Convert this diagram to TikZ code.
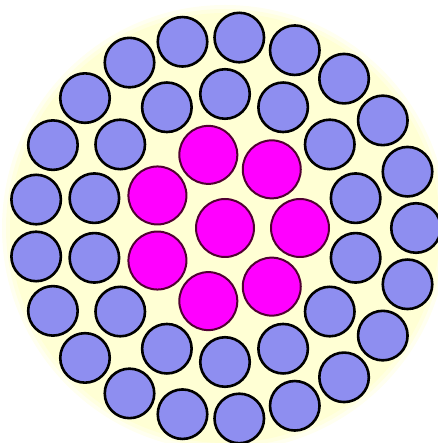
\documentclass[tikz,border=0pt]{standalone}
\usetikzlibrary{calc}
\definecolor{bluefill}{RGB}{142,142,240}
\definecolor{magfill}{RGB}{255,0,255}
\definecolor{magline}{RGB}{80,0,50}
\definecolor{bgyellow}{RGB}{255,255,212}
\tikzset{
  bluedisk/.style={circle,draw=black,line width=2.6pt,fill=bluefill,minimum size=49.5pt,inner sep=0pt},
  magdisk/.style={circle,draw=magline,line width=2pt,fill=magfill,minimum size=58pt,inner sep=0pt}
}
\begin{document}
\begin{tikzpicture}[x=1pt,y=1pt]
\useasboundingbox (0,0) rectangle (437,443);
\coordinate (c) at (225,215);
% pale background disc with soft edge
\fill[bgyellow!35] (c) circle (223);
\fill[bgyellow!70] (c) circle (219);
\fill[bgyellow] (c) circle (215);
% outer blue ring
\foreach \k in {0,...,20}
  \node[bluedisk] (o\k) at ($(c)+({\k*360/21}:191)$) {};
% inner blue ring
\foreach \k in {0,...,13}
  \node[bluedisk] (i\k) at ($(c)+({90+\k*360/14}:134)$) {};
% magenta ring
\foreach \k in {0,...,6}
  \node[magdisk] (m\k) at ($(c)+({\k*360/7}:75)$) {};
\node[magdisk] (m) at (c) {};
\end{tikzpicture}
\end{document}
